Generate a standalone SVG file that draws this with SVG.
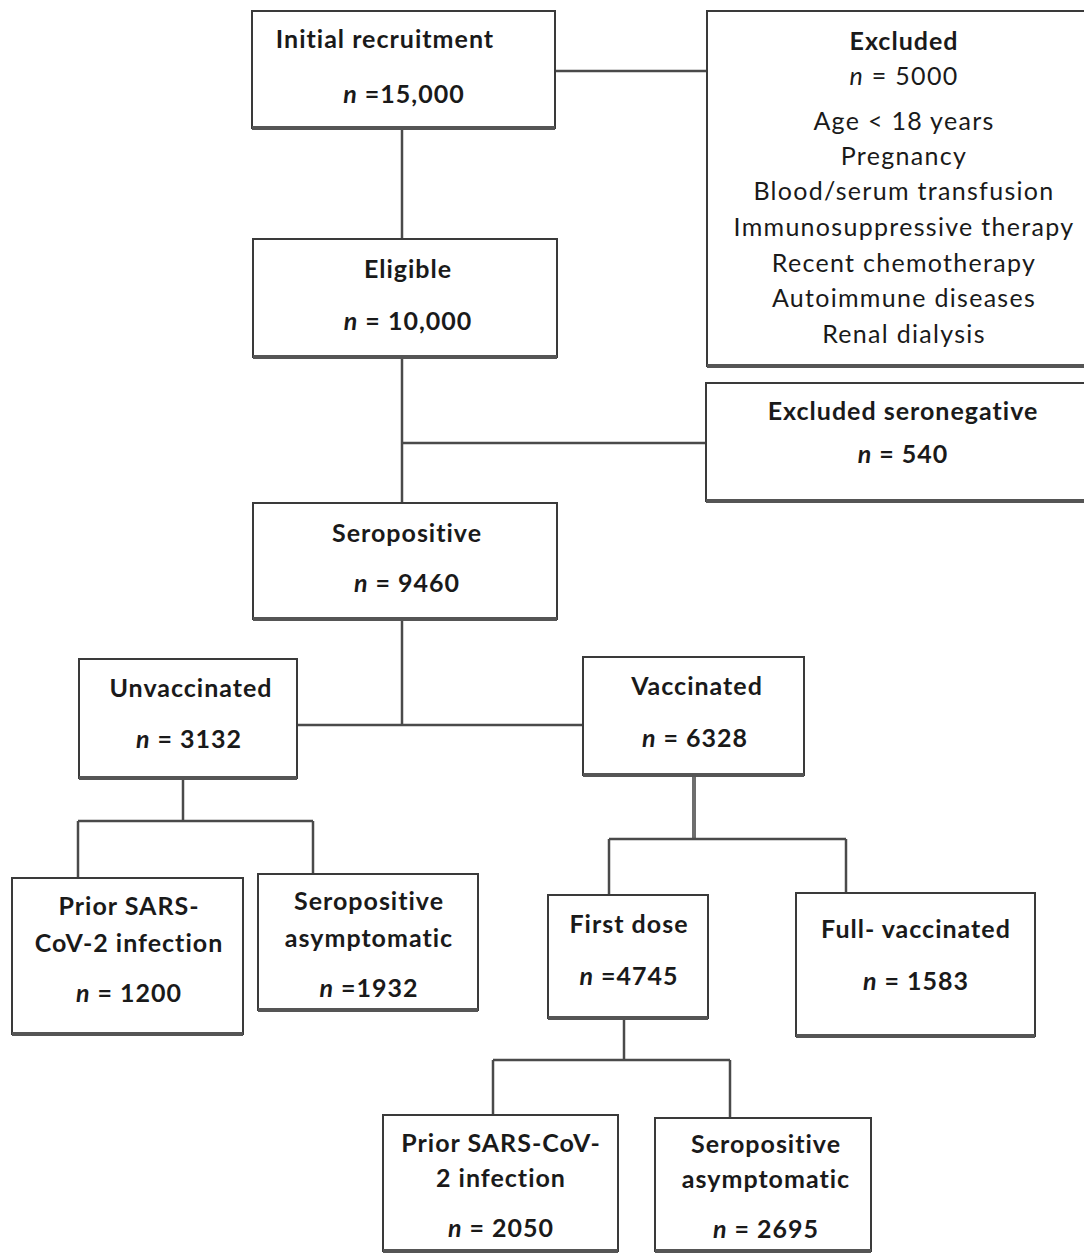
<svg xmlns="http://www.w3.org/2000/svg" width="1084" height="1256" viewBox="0 0 1084 1256">
<style>
.box{fill:#fff;stroke:#3a3a3a;stroke-width:2}
.base{stroke:#555;stroke-width:4}
.c{fill:none;stroke:#4a4a4a;stroke-width:2.5}
.ct{fill:none;stroke:#6e6e6e;stroke-width:4}
text{font-family:Lato,"Liberation Sans",sans-serif;font-size:25px;fill:#1a1a1a;text-anchor:middle}
.b{font-weight:bold;letter-spacing:1px}
.r{font-weight:normal;letter-spacing:1.3px}
.i{font-style:italic}
</style>
<rect width="1084" height="1256" fill="#fff"/>
<g id="connectors">
<path class="c" d="M555 71H707"/>
<path class="c" d="M402 128V239"/>
<path class="c" d="M402 357V503"/>
<path class="c" d="M402 443H706"/>
<path class="c" d="M402 619V725"/>
<path class="c" d="M297 725H583"/>
<path class="c" d="M183 778V821"/>
<path class="c" d="M78 821H313"/>
<path class="c" d="M78 821V878"/>
<path class="c" d="M313 821V874"/>
<path class="ct" d="M694 775V839"/>
<path class="c" d="M609 839H846"/>
<path class="c" d="M609 839V895"/>
<path class="c" d="M846 839V893"/>
<path class="c" d="M624 1018V1060"/>
<path class="c" d="M493 1060H730"/>
<path class="c" d="M493 1060V1115"/>
<path class="c" d="M730 1060V1118"/>
</g>
<g id="initial">
<rect class="box" x="252" y="11" width="303" height="117"/>
<path class="base" d="M252 128H555"/>
<text class="b" x="385" y="48">Initial recruitment</text>
<text class="b" x="404" y="103"><tspan class="i">n</tspan> =15,000</text>
</g>
<g id="excluded">
<rect class="box" x="707" y="11" width="380" height="355"/>
<path class="base" d="M707 366H1084"/>
<text class="b" x="904" y="50">Excluded</text>
<text class="r" x="904" y="85"><tspan class="i">n</tspan> = 5000</text>
<text class="r" x="904" y="130">Age &lt; 18 years</text>
<text class="r" x="904" y="165">Pregnancy</text>
<text class="r" x="904" y="200">Blood/serum transfusion</text>
<text class="r" x="904" y="236">Immunosuppressive therapy</text>
<text class="r" x="904" y="272">Recent chemotherapy</text>
<text class="r" x="904" y="307">Autoimmune diseases</text>
<text class="r" x="904" y="343">Renal dialysis</text>
</g>
<g id="eligible">
<rect class="box" x="253" y="239" width="304" height="118"/>
<path class="base" d="M253 357H557"/>
<text class="b" x="408" y="278">Eligible</text>
<text class="b" x="408" y="330"><tspan class="i">n</tspan> = 10,000</text>
</g>
<g id="seronegative">
<rect class="box" x="706" y="383" width="380" height="118"/>
<path class="base" d="M706 501H1084"/>
<text class="b" x="903" y="420">Excluded seronegative</text>
<text class="b" x="903" y="463"><tspan class="i">n</tspan> = 540</text>
</g>
<g id="seropositive">
<rect class="box" x="253" y="503" width="304" height="116"/>
<path class="base" d="M253 619H557"/>
<text class="b" x="407" y="542">Seropositive</text>
<text class="b" x="407" y="592"><tspan class="i">n</tspan> = 9460</text>
</g>
<g id="unvaccinated">
<rect class="box" x="79" y="659" width="218" height="119"/>
<path class="base" d="M79 778H297"/>
<text class="b" x="191" y="697">Unvaccinated</text>
<text class="b" x="189" y="748"><tspan class="i">n</tspan> = 3132</text>
</g>
<g id="vaccinated">
<rect class="box" x="583" y="657" width="221" height="118"/>
<path class="base" d="M583 775H804"/>
<text class="b" x="697" y="695">Vaccinated</text>
<text class="b" x="695" y="747"><tspan class="i">n</tspan> = 6328</text>
</g>
<g id="prior1">
<rect class="box" x="12" y="878" width="231" height="156"/>
<path class="base" d="M12 1034H243"/>
<text class="b" x="129" y="915">Prior SARS-</text>
<text class="b" x="129" y="952">CoV-2 infection</text>
<text class="b" x="129" y="1002"><tspan class="i">n</tspan> = 1200</text>
</g>
<g id="asym1">
<rect class="box" x="258" y="874" width="220" height="136"/>
<path class="base" d="M258 1010H478"/>
<text class="b" x="369" y="910">Seropositive</text>
<text class="b" x="369" y="947">asymptomatic</text>
<text class="b" x="369" y="997"><tspan class="i">n</tspan> =1932</text>
</g>
<g id="firstdose">
<rect class="box" x="548" y="895" width="160" height="123"/>
<path class="base" d="M548 1018H708"/>
<text class="b" x="629" y="933">First dose</text>
<text class="b" x="629" y="985"><tspan class="i">n</tspan> =4745</text>
</g>
<g id="full">
<rect class="box" x="796" y="893" width="239" height="143"/>
<path class="base" d="M796 1036H1035"/>
<text class="b" x="916" y="938">Full- vaccinated</text>
<text class="b" x="916" y="990"><tspan class="i">n</tspan> = 1583</text>
</g>
<g id="prior2">
<rect class="box" x="383" y="1115" width="235" height="136"/>
<path class="base" d="M383 1251H618"/>
<text class="b" x="501" y="1152">Prior SARS-CoV-</text>
<text class="b" x="501" y="1187">2 infection</text>
<text class="b" x="501" y="1237"><tspan class="i">n</tspan> = 2050</text>
</g>
<g id="asym2">
<rect class="box" x="655" y="1118" width="216" height="133"/>
<path class="base" d="M655 1251H871"/>
<text class="b" x="766" y="1153">Seropositive</text>
<text class="b" x="766" y="1188">asymptomatic</text>
<text class="b" x="766" y="1238"><tspan class="i">n</tspan> = 2695</text>
</g>
</svg>
